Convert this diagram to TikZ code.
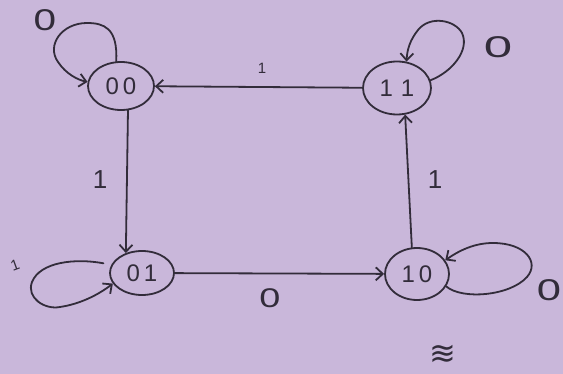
\documentclass[tikz,border=0pt]{standalone}
\usepackage{fontspec}
\usepackage{graphicx}
\setmainfont{Liberation Sans}
\newfontfamily\dvfont{DejaVu Sans}
\usetikzlibrary{shapes.geometric,arrows.meta}
\definecolor{paper}{RGB}{201,183,218}
\definecolor{ink}{RGB}{50,44,58}
\begin{document}
\begin{tikzpicture}[x=1pt,y=-1pt,
  state/.style={ellipse,draw=ink,line width=1.8pt,inner sep=0pt,text=ink,font=\fontsize{24}{24}\selectfont},
  arr/.style={draw=ink,line width=1.8pt,line cap=round,-{Straight Barb[length=7pt,width=13pt,line width=1.8pt]}},
  lbl/.style={text=ink,inner sep=0pt}]
\fill[paper] (0,0) rectangle (563,374);
\useasboundingbox (0,0) rectangle (563,374);
% states
\node[state,minimum width=66pt,minimum height=48pt] (s00) at (121,86) {0\,0};
\node[state,minimum width=68pt,minimum height=53pt] (s11) at (397,88) {1\,\,1};
\node[state,minimum width=64pt,minimum height=44pt] (s01) at (142,273) {0\,1};
\node[state,minimum width=64pt,minimum height=52pt] (s10) at (417,274) {1\,0};
% transitions
\draw[arr] (s11) -- (s00);
\draw[arr] (s00.-74) -- (s01.129);
\draw[arr] (s01) -- (s10);
\draw[arr] (s10.101) -- (s11.-73);
% self loops
\draw[arr] (s00.101) .. controls (118,28) and (104,23) .. (87,23)
  .. controls (62,23) and (46,45) .. (58,62)
  .. controls (66,74) and (78,80) .. (s00.173);
\draw[arr] (s11.13) .. controls (452,72) and (470,50) .. (462,33)
  .. controls (455,20) and (430,15) .. (418,30)
  .. controls (410,40) and (407,50) .. (s11.70);
\draw[arr,shorten <=8pt] (s01.165) .. controls (75,258) and (40,262) .. (32,282)
  .. controls (26,298) and (45,310) .. (60,307)
  .. controls (80,304) and (98,295) .. (s01.200);
\draw[arr] (s10.-23) .. controls (462,300) and (510,296) .. (527,277)
  .. controls (540,262) and (525,243) .. (493,243)
  .. controls (475,243) and (460,250) .. (s10.26);
% labels
\node[lbl,font=\fontsize{30}{30}\selectfont] (l00) at (45,20) {\scalebox{1.35}[1]{0}};
\node[lbl,font=\fontsize{30}{30}\selectfont] (l11) at (498,47) {\scalebox{1.7}[1]{0}};
\node[lbl,font=\fontsize{27}{27}\selectfont] (l0110) at (270,298) {\scalebox{1.4}[1]{0}};
\node[lbl,font=\fontsize{30}{30}\selectfont] (l10) at (549,290) {\scalebox{1.45}[1]{0}};
\node[lbl,font=\fontsize{15}{15}\selectfont] (l1100) at (262,68) {1};
\node[lbl,font=\fontsize{26}{26}\selectfont] (l0001) at (100,180) {1};
\node[lbl,font=\fontsize{26}{26}\selectfont] (l1011) at (435,180) {1};
\node[lbl,font=\fontsize{15}{15}\selectfont] (l01) at (15,265) {\rotatebox{20}{1}};
\node[lbl,font=\dvfont\fontsize{32}{32}\selectfont] (mark) at (443,355) {≋};
\end{tikzpicture}
\end{document}
